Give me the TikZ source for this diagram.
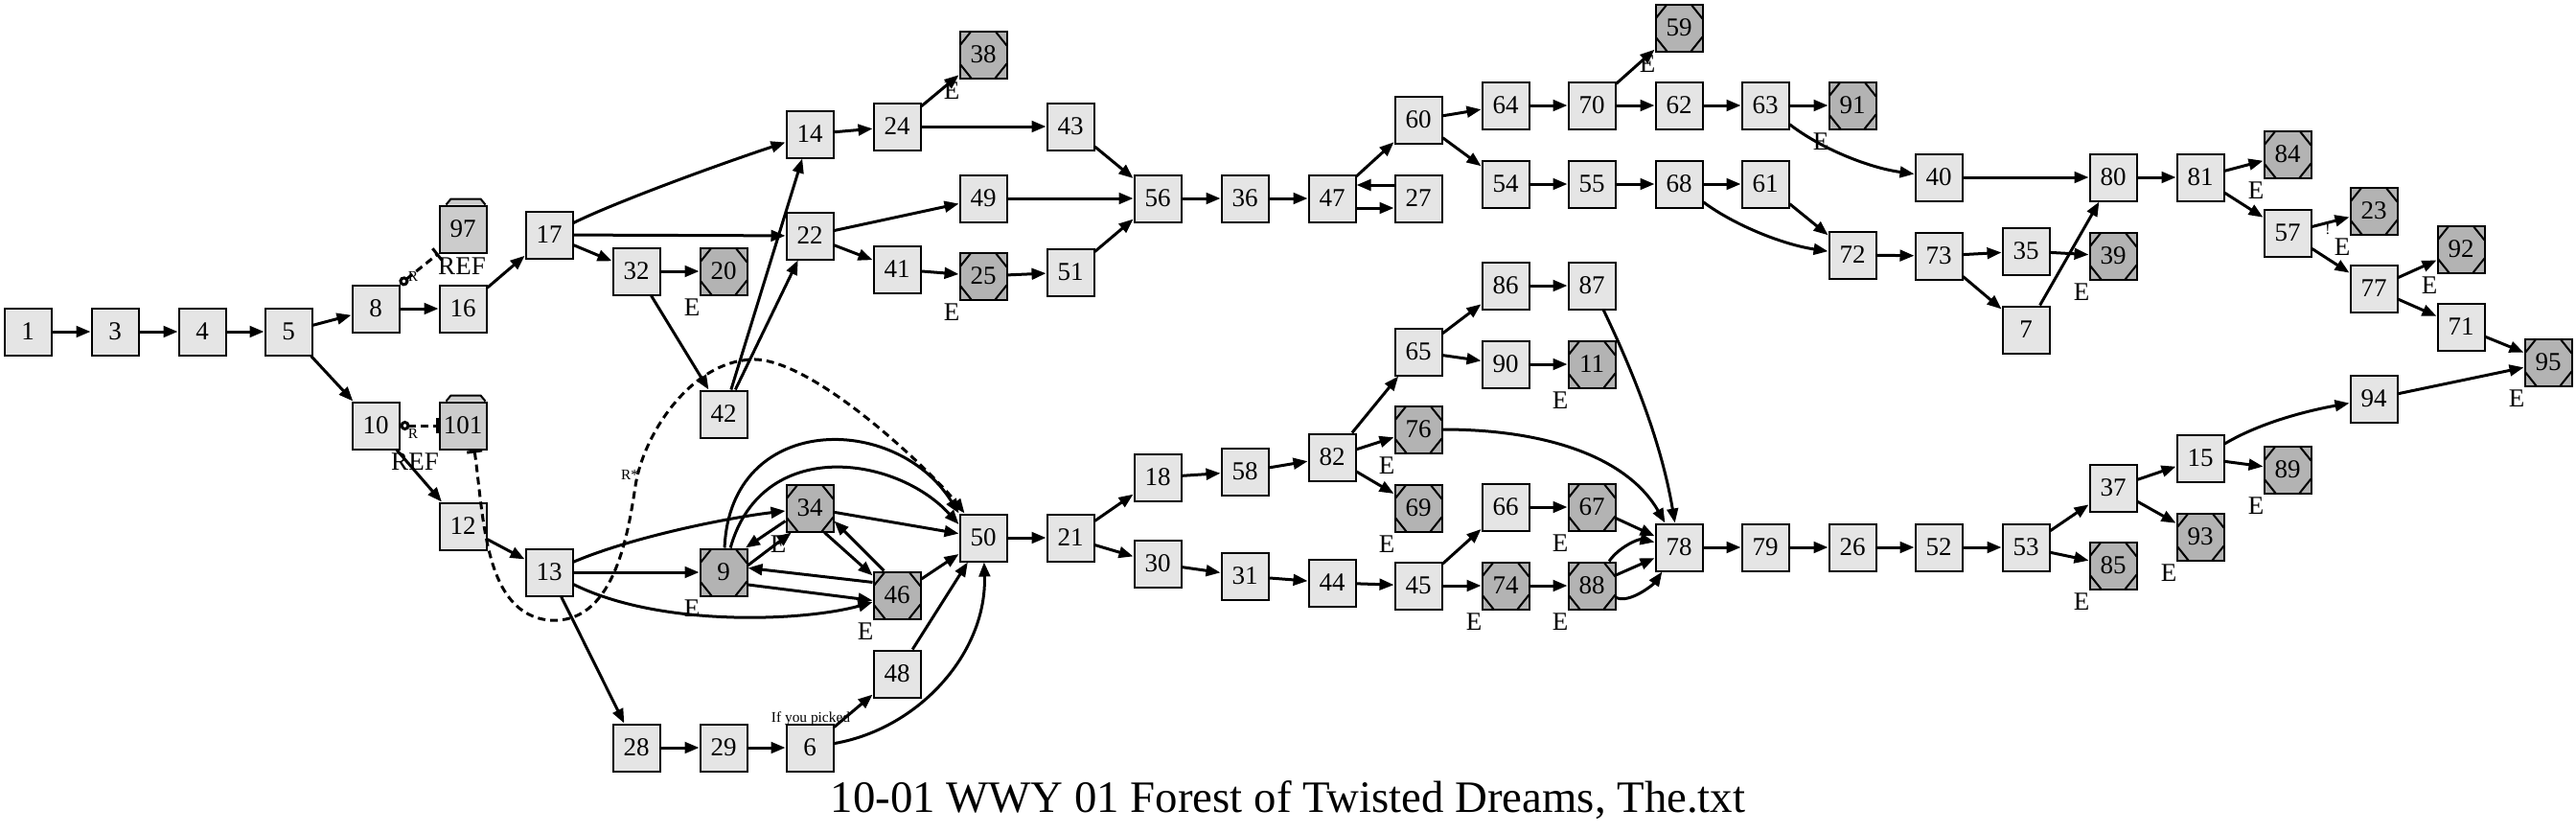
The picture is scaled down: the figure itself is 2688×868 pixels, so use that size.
\documentclass[tikz,border=0pt]{standalone}
\usepackage{fontspec}
\setmainfont{Liberation Serif}
\usetikzlibrary{arrows.meta}
\definecolor{nfill}{gray}{0.898}
\definecolor{efill}{gray}{0.702}
\definecolor{ffill}{gray}{0.8}
\newcommand{\nodefnt}{\fontsize{13.5}{15}\selectfont}
\newcommand{\smallfnt}{\fontsize{7.7}{9}\selectfont}
\newcommand{\titlefnt}{\fontsize{23.4}{26}\selectfont}
\begin{document}
\begin{tikzpicture}[x=0.5pt,y=-0.5pt,
  base/.style={draw, line width=1pt, minimum width=24.5pt, minimum height=24.5pt, inner sep=0pt, font=\nodefnt},
  nbox/.style={base, fill=nfill},
  fbox/.style={base, fill=ffill},
  ebox/.style={base, fill=efill, path picture={
    \draw[line width=1pt] ([xshift=6pt]path picture bounding box.north west) -- ([yshift=-7.5pt]path picture bounding box.north west);
    \draw[line width=1pt] ([xshift=-6pt]path picture bounding box.north east) -- ([yshift=-7.5pt]path picture bounding box.north east);
    \draw[line width=1pt] ([xshift=6pt]path picture bounding box.south west) -- ([yshift=7.5pt]path picture bounding box.south west);
    \draw[line width=1pt] ([xshift=-6pt]path picture bounding box.south east) -- ([yshift=7.5pt]path picture bounding box.south east);},
    label={[font=\nodefnt, xshift=-16.5pt, yshift=-19pt]center:E}},
  tabstyle/.style={fill=ffill, draw, line width=1pt, line join=miter},
  conn/.style={line width=1.5pt, -{Triangle[length=7.5pt,width=5.8pt]}},
  refl/.style={line width=1.5pt, dash pattern=on 4pt off 2.5pt, {Circle[open,length=5pt,width=5pt]}-{Bar[width=8pt]}},
  rstar/.style={line width=1.5pt, dash pattern=on 4pt off 2.5pt, {Bar[width=8pt]}-{Triangle[length=7.5pt,width=5.8pt]}},
  smalllab/.style={font=\smallfnt, inner sep=0pt},
  lab/.style={font=\nodefnt, inner sep=0pt}
]
\useasboundingbox (0,0) rectangle (2688,868);

% regular nodes
\node[nbox] (n1) at (29,346) {1};
\node[nbox] (n3) at (120,346) {3};
\node[nbox] (n4) at (211,346) {4};
\node[nbox] (n5) at (301,346) {5};
\node[nbox] (n8) at (392,322) {8};
\node[nbox] (n16) at (483,322) {16};
\node[nbox] (n10) at (392,444) {10};
\node[nbox] (n12) at (483,549) {12};
\node[nbox] (n13) at (573,597) {13};
\node[nbox] (n17) at (573,245) {17};
\node[nbox] (n32) at (664,283) {32};
\node[nbox] (n28) at (664,780) {28};
\node[nbox] (n42) at (755,432) {42};
\node[nbox] (n29) at (755,780) {29};
\node[nbox] (n14) at (845,140) {14};
\node[nbox] (n22) at (845,246) {22};
\node[nbox] (n6) at (845,780) {6};
\node[nbox] (n24) at (936,132) {24};
\node[nbox] (n41) at (936,281) {41};
\node[nbox] (n48) at (936,703) {48};
\node[nbox] (n49) at (1026,207) {49};
\node[nbox] (n50) at (1026,561) {50};
\node[nbox] (n43) at (1117,132) {43};
\node[nbox] (n51) at (1117,284) {51};
\node[nbox] (n21) at (1117,561) {21};
\node[nbox] (n56) at (1208,207) {56};
\node[nbox] (n18) at (1208,498) {18};
\node[nbox] (n30) at (1208,588) {30};
\node[nbox] (n36) at (1299,207) {36};
\node[nbox] (n58) at (1299,492) {58};
\node[nbox] (n31) at (1299,601) {31};
\node[nbox] (n47) at (1390,207) {47};
\node[nbox] (n82) at (1390,477) {82};
\node[nbox] (n44) at (1390,608) {44};
\node[nbox] (n60) at (1480,125) {60};
\node[nbox] (n27) at (1480,207) {27};
\node[nbox] (n65) at (1480,367) {65};
\node[nbox] (n45) at (1480,611) {45};
\node[nbox] (n64) at (1571,110) {64};
\node[nbox] (n54) at (1571,192) {54};
\node[nbox] (n86) at (1571,298) {86};
\node[nbox] (n90) at (1571,380) {90};
\node[nbox] (n66) at (1571,529) {66};
\node[nbox] (n70) at (1661,110) {70};
\node[nbox] (n55) at (1661,192) {55};
\node[nbox] (n87) at (1661,298) {87};
\node[nbox] (n62) at (1752,110) {62};
\node[nbox] (n68) at (1752,192) {68};
\node[nbox] (n78) at (1752,571) {78};
\node[nbox] (n63) at (1842,110) {63};
\node[nbox] (n61) at (1842,192) {61};
\node[nbox] (n79) at (1842,571) {79};
\node[nbox] (n72) at (1933,266) {72};
\node[nbox] (n26) at (1933,571) {26};
\node[nbox] (n40) at (2023,185) {40};
\node[nbox] (n73) at (2023,267) {73};
\node[nbox] (n52) at (2023,571) {52};
\node[nbox] (n35) at (2114,262) {35};
\node[nbox] (n7) at (2114,344) {7};
\node[nbox] (n53) at (2114,571) {53};
\node[nbox] (n80) at (2205,185) {80};
\node[nbox] (n37) at (2205,509) {37};
\node[nbox] (n81) at (2296,185) {81};
\node[nbox] (n15) at (2296,478) {15};
\node[nbox] (n57) at (2387,243) {57};
\node[nbox] (n77) at (2477,301) {77};
\node[nbox] (n94) at (2477,416) {94};
\node[nbox] (n71) at (2568,341) {71};

% end nodes
\node[ebox] (n20) at (755,283) {20};
\node[ebox] (n9) at (755,597) {9};
\node[ebox] (n34) at (845,530) {34};
\node[ebox] (n46) at (936,621) {46};
\node[ebox] (n38) at (1026,57) {38};
\node[ebox] (n25) at (1026,288) {25};
\node[ebox] (n76) at (1480,448) {76};
\node[ebox] (n69) at (1480,530) {69};
\node[ebox] (n74) at (1571,611) {74};
\node[ebox] (n11) at (1661,380) {11};
\node[ebox] (n67) at (1661,529) {67};
\node[ebox] (n88) at (1661,611) {88};
\node[ebox] (n59) at (1752,29) {59};
\node[ebox] (n91) at (1933,110) {91};
\node[ebox] (n39) at (2205,267) {39};
\node[ebox] (n85) at (2205,590) {85};
\node[ebox] (n93) at (2296,560) {93};
\node[ebox] (n84) at (2387,161) {84};
\node[ebox] (n89) at (2387,490) {89};
\node[ebox] (n23) at (2477,220) {23};
\node[ebox] (n92) at (2568,260) {92};
\node[ebox] (n95) at (2659,378) {95};

% folder nodes
\node[fbox] (n97) at (483,239) {97};
\draw[tabstyle] (n97.north west) ++(8,0) -- ++(5,-6) -- ++(31,0) -- ++(5,6);
\node[fbox] (n101) at (483,444) {101};
\draw[tabstyle] (n101.north west) ++(8,0) -- ++(5,-6) -- ++(31,0) -- ++(5,6);
\node[lab] (ref97) at (482,278) {REF};
\node[lab] (ref101) at (433,482) {REF};

% labels
\node[smalllab] (r1) at (431,288) {R};
\node[smalllab] (r2) at (431,452) {R};
\node[smalllab] (rs) at (657,495) {R*};
\node[smalllab] (ifp) at (846,750) {If you picked};
\node[smalllab] (excl) at (2429,240) {!};
\node[font=\titlefnt, anchor=base, inner sep=0pt] (title) at (1344,847) {10-01 WWY 01 Forest of Twisted Dreams, The.txt};

% dashed reference edges
\draw[refl] (n8.north east) -- (n97.south west);
\draw[refl] (n10.east) -- (n101.west);
\draw[rstar] ([xshift=6pt]n101.south) .. controls (505,540) and (505,640) .. (573,647)
  .. controls (640,652) and (655,560) .. (663,507)
  .. controls (671,454) and (720,378) .. (784,375)
  .. controls (848,372) and (975,495) .. ([xshift=3pt]n50.north west);

% edges
\draw[conn] (n1) -- (n3);
\draw[conn] (n3) -- (n4);
\draw[conn] (n4) -- (n5);
\draw[conn] (n5) -- (n8);
\draw[conn] (n5) -- (n10);
\draw[conn] (n8) -- (n16);
\draw[conn] (n16) -- (n17);
\draw[conn] (n10) -- (n12);
\draw[conn] (n12) -- (n13);
\draw[conn] (n17) .. controls (640,212) and (740,175) .. (n14);
\draw[conn] (n17) -- (n22);
\draw[conn] (n17) -- (n32);
\draw[conn] (n32) -- (n20);
\draw[conn] (n32) -- (n42);
\draw[conn] (n42) -- (n14);
\draw[conn] (n42) -- (n22);
\draw[conn] (n14) -- (n24);
\draw[conn] (n24) -- (n38);
\draw[conn] (n24) -- (n43);
\draw[conn] (n43) -- (n56);
\draw[conn] (n22) -- (n49);
\draw[conn] (n22) -- (n41);
\draw[conn] (n49) -- (n56);
\draw[conn] (n41) -- (n25);
\draw[conn] (n25) -- (n51);
\draw[conn] (n51) -- (n56);
\draw[conn] (n56) -- (n36);
\draw[conn] (n36) -- (n47);
\draw[conn] (n47) -- (n60);
\draw[conn] ([yshift=7pt]n27.west) -- ([yshift=7pt]n47.east);
\draw[conn] ([yshift=-5pt]n47.east) -- ([yshift=-5pt]n27.west);
\draw[conn] (n60) -- (n64);
\draw[conn] (n60) -- (n54);
\draw[conn] (n64) -- (n70);
\draw[conn] (n70) -- (n59);
\draw[conn] (n70) -- (n62);
\draw[conn] (n62) -- (n63);
\draw[conn] (n63) -- (n91);
\draw[conn] (n63) .. controls (1900,155) and (1950,175) .. (n40);
\draw[conn] (n54) -- (n55);
\draw[conn] (n55) -- (n68);
\draw[conn] (n68) -- (n61);
\draw[conn] (n61) -- (n72);
\draw[conn] (n68) .. controls (1810,235) and (1860,255) .. (n72);
\draw[conn] (n72) -- (n73);
\draw[conn] (n73) -- (n35);
\draw[conn] (n73) -- (n7);
\draw[conn] (n35) -- (n39);
\draw[conn] (n7) -- (n80);
\draw[conn] (n40) -- (n80);
\draw[conn] (n80) -- (n81);
\draw[conn] (n81) -- (n84);
\draw[conn] (n81) -- (n57);
\draw[conn] (n57) -- (n23);
\draw[conn] (n57) -- (n77);
\draw[conn] (n77) -- (n92);
\draw[conn] (n77) -- (n71);
\draw[conn] (n71) -- (n95);
\draw[conn] (n94) -- (n95);
\draw[conn] (n15) .. controls (2360,440) and (2410,428) .. (n94);
\draw[conn] (n15) -- (n89);
\draw[conn] (n37) -- (n15);
\draw[conn] (n37) -- (n93);
\draw[conn] (n53) -- (n37);
\draw[conn] (n53) -- (n85);
\draw[conn] (n52) -- (n53);
\draw[conn] (n26) -- (n52);
\draw[conn] (n79) -- (n26);
\draw[conn] (n78) -- (n79);
\draw[conn] (n87) .. controls (1710,400) and (1735,470) .. (n78);
\draw[conn] (n76) .. controls (1620,448) and (1700,480) .. (n78);
\draw[conn] (n67) -- (n78);
\draw[conn] (n88) .. controls (1690,570) and (1710,562) .. (n78);
\draw[conn] (n88) -- (n78);
\draw[conn] (n88) .. controls (1700,630) and (1725,610) .. (n78);
\draw[conn] (n66) -- (n67);
\draw[conn] (n45) -- (n66);
\draw[conn] (n45) -- (n74);
\draw[conn] (n74) -- (n88);
\draw[conn] (n44) -- (n45);
\draw[conn] (n31) -- (n44);
\draw[conn] (n30) -- (n31);
\draw[conn] (n21) -- (n30);
\draw[conn] (n21) -- (n18);
\draw[conn] (n18) -- (n58);
\draw[conn] (n58) -- (n82);
\draw[conn] (n82) -- (n65);
\draw[conn] (n82) -- (n76);
\draw[conn] (n82) -- (n69);
\draw[conn] (n65) -- (n86);
\draw[conn] (n65) -- (n90);
\draw[conn] (n86) -- (n87);
\draw[conn] (n90) -- (n11);
\draw[conn] (n50) -- (n21);
\draw[conn] (n13) .. controls (660,560) and (760,540) .. (n34);
\draw[conn] (n13) -- (n9);
\draw[conn] (n13) .. controls (690,655) and (840,648) .. (n46);
\draw[conn] (n13) -- (n28);
\draw[conn] (n28) -- (n29);
\draw[conn] (n29) -- (n6);
\draw[conn] (n6) -- (n48);
\draw[conn] (n48) -- (n50);
\draw[conn] (n6) .. controls (960,760) and (1030,680) .. (n50);
\draw[conn] (n9) .. controls (762,430) and (935,430) .. (n50.north west);
\draw[conn] (n9) .. controls (795,455) and (935,475) .. ([yshift=7pt]n50.west);
\draw[conn] (n34) -- (n50);
\draw[conn] (n46) -- (n50);
\draw[conn] (n34.208) -- (n9.48);
\draw[conn] (n9.16) -- (n34.233);
\draw[conn] (n34.301) -- (n46.141);
\draw[conn] (n46.118) -- (n34.332);
\draw[conn] (n46.152) -- (n9.10);
\draw[conn] (n9.333) -- (n46.192);
\end{tikzpicture}
\end{document}
